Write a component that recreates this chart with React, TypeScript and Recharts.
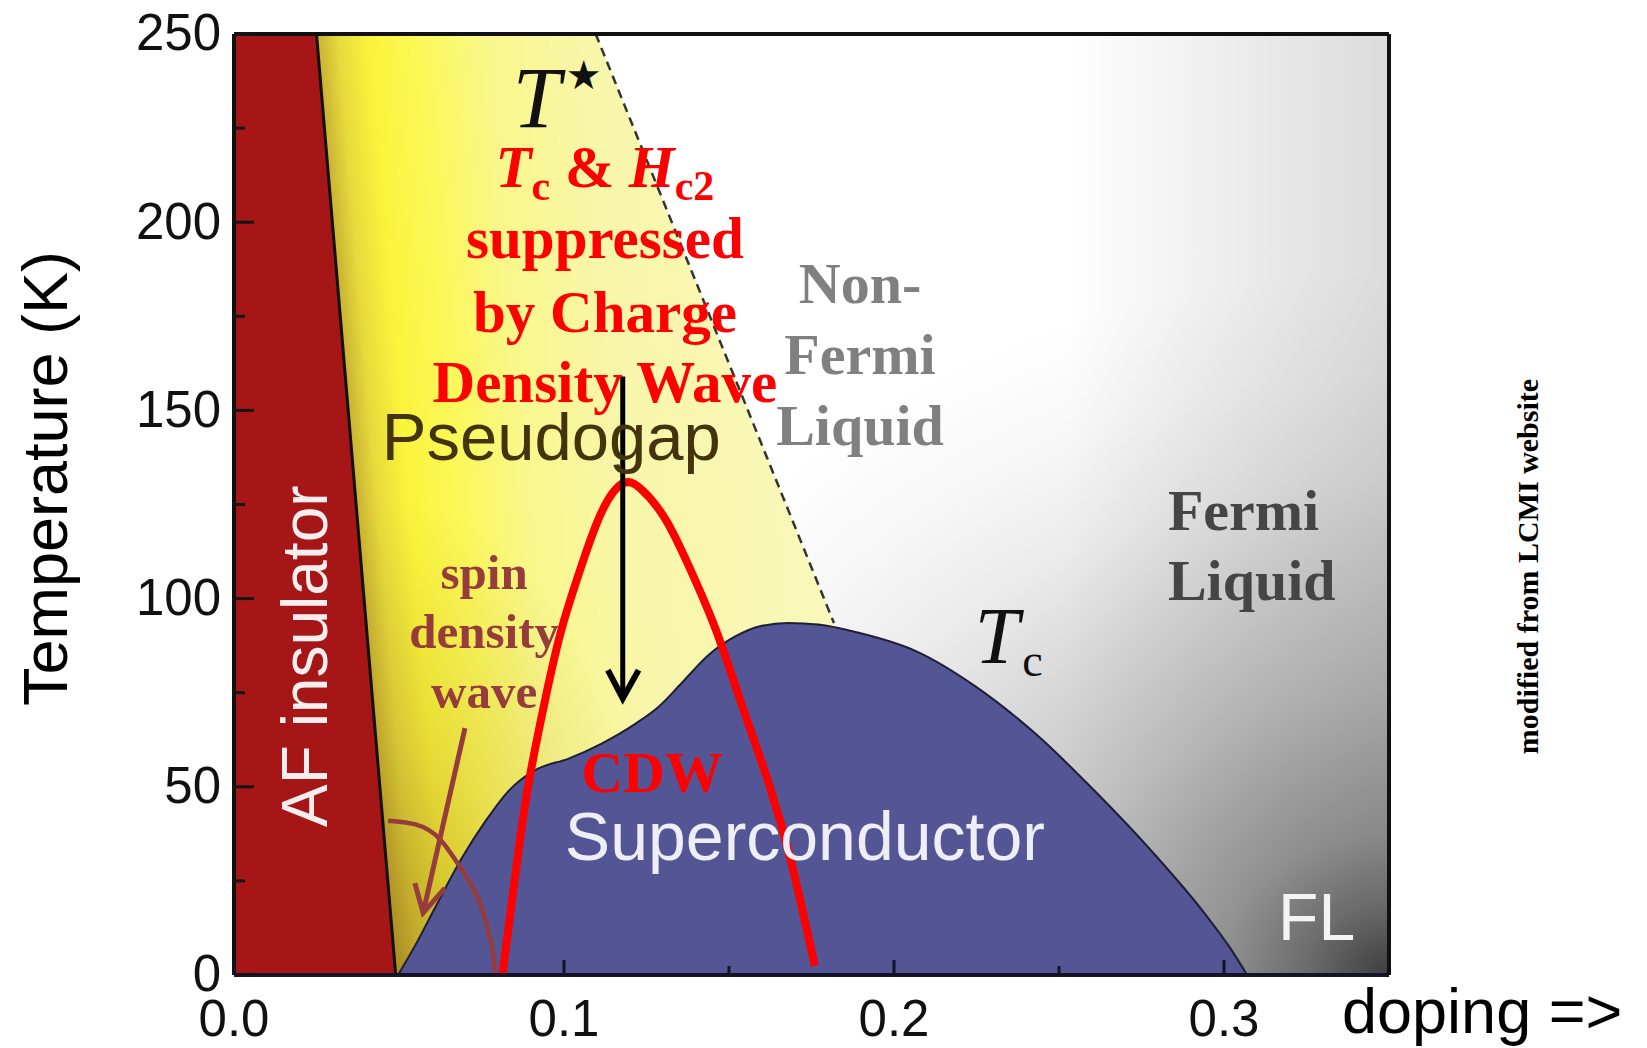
import React from "react"
import { ComposedChart, Area, Line, Scatter, XAxis, YAxis } from "recharts"

// x = hole doping per Cu, t = temperature in K
const dopingTicks = [0, 0.1, 0.15, 0.2, 0.25, 0.3]
const tempTicks = [0, 25, 50, 75, 100, 125, 150, 175, 200, 225, 250]

const plotRange = [
  { x: 0, t: 250 },
  { x: 0.35, t: 250 },
]

const afRegion = [
  { x: 0, t: 250 },
  { x: 0.025, t: 250 },
  { x: 0.049, t: 0 },
]

const afBoundary = [
  { x: 0.025, t: 250 },
  { x: 0.049, t: 0 },
]

const pseudogapRegion = [
  { x: 0.025, t: 250 },
  { x: 0.1096, t: 250 },
  { x: 0.1818, t: 93.5 },
  { x: 0.1819, t: 0 },
]

const tStarLine = [
  { x: 0.1096, t: 250 },
  { x: 0.1818, t: 93.5 },
]

const scDome = [
  { x: 0.0497, t: 0 },
  { x: 0.055, t: 8 },
  { x: 0.061, t: 18 },
  { x: 0.069, t: 31 },
  { x: 0.0763, t: 41 },
  { x: 0.0833, t: 49 },
  { x: 0.0914, t: 54.5 },
  { x: 0.1014, t: 57.5 },
  { x: 0.1114, t: 61.5 },
  { x: 0.1217, t: 66.8 },
  { x: 0.1287, t: 71.3 },
  { x: 0.1356, t: 77.5 },
  { x: 0.1438, t: 85 },
  { x: 0.152, t: 90 },
  { x: 0.16, t: 92.8 },
  { x: 0.168, t: 93.5 },
  { x: 0.177, t: 93.1 },
  { x: 0.189, t: 91 },
  { x: 0.2068, t: 86 },
  { x: 0.225, t: 76.5 },
  { x: 0.243, t: 64 },
  { x: 0.2607, t: 49 },
  { x: 0.2785, t: 32.5 },
  { x: 0.294, t: 16.5 },
  { x: 0.302, t: 7 },
  { x: 0.307, t: 0 },
]

const cdwDome = [
  { x: 0.0814, t: 0.5 },
  { x: 0.0854, t: 27.6 },
  { x: 0.0893, t: 51 },
  { x: 0.0945, t: 74 },
  { x: 0.0993, t: 92 },
  { x: 0.1054, t: 109 },
  { x: 0.1114, t: 123 },
  { x: 0.1176, t: 130.5 },
  { x: 0.1235, t: 129 },
  { x: 0.1308, t: 121 },
  { x: 0.1378, t: 108.7 },
  { x: 0.1459, t: 92 },
  { x: 0.1538, t: 72 },
  { x: 0.162, t: 51 },
  { x: 0.169, t: 29.5 },
  { x: 0.176, t: 2.4 },
]

const sdwArc = [
  { x: 0.0467, t: 41 },
  { x: 0.055, t: 40 },
  { x: 0.0625, t: 36 },
  { x: 0.0675, t: 30 },
  { x: 0.0715, t: 24.5 },
  { x: 0.0748, t: 18.5 },
  { x: 0.0772, t: 11 },
  { x: 0.0786, t: 5 },
  { x: 0.0791, t: 0 },
]

const sdwArrow = [
  { x: 0.07, t: 65.6 },
  { x: 0.0573, t: 16.5 },
]
const sdwArrowHead = [
  { x: 0.0548, t: 24.4 },
  { x: 0.0573, t: 16.5 },
  { x: 0.0639, t: 23.1 },
]

const cdwArrow = [
  { x: 0.1178, t: 159 },
  { x: 0.1178, t: 74 },
]
const cdwArrowHead = [
  { x: 0.1133, t: 81 },
  { x: 0.1178, t: 73.5 },
  { x: 0.1226, t: 81 },
]

// label anchors in data space
const notes = [
  { x: 0.0845, t: 225.3, kind: "tstar" },
  { x: 0.1124, t: 209.3, kind: "cdwNote" },
  { x: 0.0448, t: 136.8, kind: "pseudogap" },
  { x: 0.1897, t: 178.5, kind: "nfl" },
  { x: 0.283, t: 118.2, kind: "fl" },
  { x: 0.2245, t: 82.9, kind: "tc" },
  { x: 0.0282, t: 84.7, kind: "af" },
  { x: 0.0758, t: 102.6, kind: "sdw" },
  { x: 0.1267, t: 48.5, kind: "cdw" },
  { x: 0.173, t: 30.6, kind: "sc" },
  { x: 0.3164, t: 9.3, kind: "flShort" },
]

const SANS = "'Liberation Sans', Arial, sans-serif"
const SERIF = "'Liberation Serif', 'Times New Roman', serif"

function renderNote(p: any) {
  const { cx, cy, payload } = p
  switch (payload.kind) {
    case "tstar":
      return (
        <text x={cx} y={cy} fontFamily={SERIF} fill="#111">
          <tspan fontStyle="italic" fontSize={86}>T</tspan>
          <tspan fontFamily="'DejaVu Sans'" fontSize={40} dx={5} dy={-38}>★</tspan>
        </text>
      )
    case "cdwNote":
      return (
        <g fill="#ff0000" fontFamily={SERIF} fontWeight="bold" fontSize={59} textAnchor="middle">
          <text x={cx} y={cy}>
            <tspan fontStyle="italic">T</tspan>
            <tspan fontSize={42} dy={13}>c</tspan>
            <tspan dy={-13}>{" & "}</tspan>
            <tspan fontStyle="italic">H</tspan>
            <tspan fontSize={42} dy={13}>c2</tspan>
          </text>
          <text x={cx} y={cy + 71}>suppressed</text>
          <text x={cx} y={cy + 145}>by Charge</text>
          <text x={cx} y={cy + 215}>Density Wave</text>
        </g>
      )
    case "pseudogap":
      return (
        <text x={cx} y={cy} fontFamily={SANS} fontSize={67} fill="#44340e">Pseudogap</text>
      )
    case "nfl":
      return (
        <g fill="#808080" fontFamily={SERIF} fontWeight="bold" fontSize={58} textAnchor="middle">
          <text x={cx} y={cy}>Non-</text>
          <text x={cx} y={cy + 71}>Fermi</text>
          <text x={cx} y={cy + 142}>Liquid</text>
        </g>
      )
    case "fl":
      return (
        <g fill="#454545" fontFamily={SERIF} fontWeight="bold" fontSize={58}>
          <text x={cx} y={cy}>Fermi</text>
          <text x={cx} y={cy + 70}>Liquid</text>
        </g>
      )
    case "tc":
      return (
        <text x={cx} y={cy} fontFamily={SERIF} fill="#111">
          <tspan fontStyle="italic" fontSize={80}>T</tspan>
          <tspan fontSize={46} dx={3} dy={13}>c</tspan>
        </text>
      )
    case "af":
      return (
        <text x={cx} y={cy} transform={`rotate(-90 ${cx} ${cy})`} textAnchor="middle" fontFamily={SANS} fontSize={64} fill="#f6eeee">
          AF insulator
        </text>
      )
    case "sdw":
      return (
        <g fill="#973c3c" fontFamily={SERIF} fontWeight="bold" fontSize={49} textAnchor="middle">
          <text x={cx} y={cy}>spin</text>
          <text x={cx} y={cy + 59}>density</text>
          <text x={cx} y={cy + 119}>wave</text>
        </g>
      )
    case "cdw":
      return (
        <text x={cx} y={cy} textAnchor="middle" fontFamily={SERIF} fontWeight="bold" fontSize={58} fill="#ff0000">CDW</text>
      )
    case "sc":
      return (
        <text x={cx} y={cy} textAnchor="middle" fontFamily={SANS} fontSize={68} fill="#eeeef6">Superconductor</text>
      )
    case "flShort":
      return (
        <text x={cx} y={cy} fontFamily={SANS} fontSize={66} fill="#f4f4f4">FL</text>
      )
  }
  return <g />
}

function DopingTick(props: any) {
  const { x, y, payload } = props
  const v = payload.value as number
  const major = Math.abs(v * 10 - Math.round(v * 10)) < 1e-6
  return (
    <g>
      <line x1={x} x2={x} y1={y} y2={y - (major ? 15 : 9)} stroke="#141428" strokeWidth={3} />
      {major && (
        <text x={x} y={y + 61} textAnchor="middle" fontFamily={SANS} fontSize={51} fill="#111">
          {v.toFixed(1)}
        </text>
      )}
    </g>
  )
}

function TempTick(props: any) {
  const { x, y, payload } = props
  const v = payload.value as number
  const major = v % 50 === 0
  return (
    <g>
      <line x1={x} x2={x + (major ? 20 : 11)} y1={y} y2={y} stroke="#151515" strokeWidth={3} />
      {major && (
        <text x={x - 13} y={y} dy="0.32em" textAnchor="end" fontFamily={SANS} fontSize={51} fill="#111">
          {v}
        </text>
      )}
    </g>
  )
}

function TempTitle(props: any) {
  const vb = props.viewBox || { x: 225, y: 34, width: 1, height: 941 }
  const x = vb.x + vb.width - 167
  const y = vb.y + vb.height / 2 - 26
  return (
    <text x={x} y={y} transform={`rotate(-90 ${x} ${y})`} textAnchor="middle" fontFamily={SANS} fontSize={63} fill="#000">
      Temperature (K)
    </text>
  )
}

function DopingTitle(props: any) {
  const vb = props.viewBox || { x: 226, y: 975, width: 1155, height: 1 }
  return (
    <text x={vb.x + vb.width - 47} y={vb.y + 58} fontFamily={SANS} fontSize={63} fill="#000">
      {"doping =>"}
    </text>
  )
}

function CreditLabel(props: any) {
  const vb = props.viewBox || { x: 1381, y: 34, width: 1, height: 941 }
  const x = vb.x + 149
  const y = vb.y + vb.height / 2 + 62
  return (
    <text x={x} y={y} transform={`rotate(-90 ${x} ${y})`} textAnchor="middle" fontFamily={SERIF} fontWeight="bold" fontSize={30} fill="#000">
      modified from LCMI website
    </text>
  )
}

export default function App() {
  return (
    <div style={{ width: 1631, height: 1048, marginTop: -8 }}>
      <ComposedChart width={1631} height={1048} margin={{ top: 33, right: 249, bottom: 72, left: 225 }}>
        <defs>
          <radialGradient id="flShade" cx="1" cy="1" r="0.75" fx="1" fy="1">
            <stop offset="0" stopColor="#000" stopOpacity={0.72} />
            <stop offset="0.1" stopColor="#000" stopOpacity={0.52} />
            <stop offset="0.2" stopColor="#000" stopOpacity={0.38} />
            <stop offset="0.4" stopColor="#000" stopOpacity={0.24} />
            <stop offset="0.55" stopColor="#000" stopOpacity={0.16} />
            <stop offset="0.7" stopColor="#000" stopOpacity={0.08} />
            <stop offset="0.85" stopColor="#000" stopOpacity={0.03} />
            <stop offset="1" stopColor="#000" stopOpacity={0} />
          </radialGradient>
          <linearGradient id="edgeShade" x1="0" y1="0" x2="1" y2="0">
            <stop offset="0.72" stopColor="#000" stopOpacity={0} />
            <stop offset="1" stopColor="#000" stopOpacity={0.14} />
          </linearGradient>
          <linearGradient id="pgFill" x1="0" y1="0" x2="1" y2="-0.153">
            <stop offset="0" stopColor="#c8b032" />
            <stop offset="0.04" stopColor="#e6da3c" />
            <stop offset="0.1" stopColor="#faf43c" />
            <stop offset="0.2" stopColor="#fbf85a" />
            <stop offset="0.32" stopColor="#f9f78a" />
            <stop offset="0.5" stopColor="#f8f6a8" />
            <stop offset="1" stopColor="#faf8c0" />
          </linearGradient>
          <radialGradient id="pgShade" cx="0.16" cy="1" r="0.5">
            <stop offset="0" stopColor="#784f0a" stopOpacity={0.4} />
            <stop offset="0.5" stopColor="#784f0a" stopOpacity={0.14} />
            <stop offset="1" stopColor="#784f0a" stopOpacity={0} />
          </radialGradient>
        </defs>

        {/* normal-state background with the darkening towards the overdoped corner */}
        <Area data={plotRange} dataKey="t" type="linear" fill="#ffffff" fillOpacity={1} stroke="none" isAnimationActive={false} activeDot={false} />
        <Area data={plotRange} dataKey="t" type="linear" fill="url(#flShade)" fillOpacity={1} stroke="none" isAnimationActive={false} activeDot={false} />
        <Area data={plotRange} dataKey="t" type="linear" fill="url(#edgeShade)" fillOpacity={1} stroke="none" isAnimationActive={false} activeDot={false} />

        {/* pseudogap */}
        <Area data={pseudogapRegion} dataKey="t" type="linear" fill="url(#pgFill)" fillOpacity={1} stroke="none" isAnimationActive={false} activeDot={false} />
        <Area data={pseudogapRegion} dataKey="t" type="linear" fill="url(#pgShade)" fillOpacity={1} stroke="none" isAnimationActive={false} activeDot={false} />

        {/* antiferromagnet */}
        <Area data={afRegion} dataKey="t" type="linear" fill="#a61616" fillOpacity={1} stroke="none" isAnimationActive={false} activeDot={false} />

        {/* superconducting dome */}
        <Area data={scDome} dataKey="t" type="monotone" fill="#535595" fillOpacity={1} stroke="#1e1e36" strokeWidth={2} isAnimationActive={false} activeDot={false} />

        <Line data={afBoundary} dataKey="t" type="linear" stroke="#111" strokeWidth={3} dot={false} activeDot={false} isAnimationActive={false} />
        <Line data={tStarLine} dataKey="t" type="linear" stroke="#333" strokeWidth={2.5} strokeDasharray="9 6" dot={false} activeDot={false} isAnimationActive={false} />

        <Line data={sdwArc} dataKey="t" type="monotone" stroke="#973c3c" strokeWidth={4.5} dot={false} activeDot={false} isAnimationActive={false} />
        <Line data={sdwArrow} dataKey="t" type="linear" stroke="#973c3c" strokeWidth={5} dot={false} activeDot={false} isAnimationActive={false} />
        <Line data={sdwArrowHead} dataKey="t" type="linear" stroke="#973c3c" strokeWidth={5} strokeLinejoin="miter" dot={false} activeDot={false} isAnimationActive={false} />

        <Line data={cdwDome} dataKey="t" type="natural" stroke="#ff0000" strokeWidth={8} strokeLinecap="butt" dot={false} activeDot={false} isAnimationActive={false} />

        <Line data={cdwArrow} dataKey="t" type="linear" stroke="#000" strokeWidth={5} dot={false} activeDot={false} isAnimationActive={false} />
        <Line data={cdwArrowHead} dataKey="t" type="linear" stroke="#000" strokeWidth={6} strokeLinejoin="miter" dot={false} activeDot={false} isAnimationActive={false} />

        <Scatter data={notes} dataKey="t" shape={renderNote} isAnimationActive={false} />

        <XAxis
          dataKey="x"
          type="number"
          domain={[0, 0.35]}
          allowDataOverflow
          ticks={dopingTicks}
          interval={0}
          height={1}
          tickSize={0}
          tickMargin={0}
          tickLine={false}
          tick={<DopingTick />}
          axisLine={{ stroke: "#141428", strokeWidth: 4 }}
          label={<DopingTitle />}
        />
        <YAxis
          dataKey="t"
          type="number"
          domain={[0, 250]}
          allowDataOverflow
          ticks={tempTicks}
          interval={0}
          width={1}
          tickSize={0}
          tickMargin={0}
          tickLine={false}
          tick={<TempTick />}
          axisLine={{ stroke: "#111", strokeWidth: 4 }}
          label={<TempTitle />}
        />
        <XAxis xAxisId="frame" orientation="top" type="number" domain={[0, 0.35]} allowDataOverflow height={1} tick={false} tickLine={false} axisLine={{ stroke: "#111", strokeWidth: 4 }} />
        <YAxis
          yAxisId="frame"
          orientation="right"
          type="number"
          domain={[0, 250]}
          allowDataOverflow
          width={1}
          tick={false}
          tickLine={false}
          axisLine={{ stroke: "#111", strokeWidth: 4 }}
          label={<CreditLabel />}
        />
      </ComposedChart>
    </div>
  )
}
